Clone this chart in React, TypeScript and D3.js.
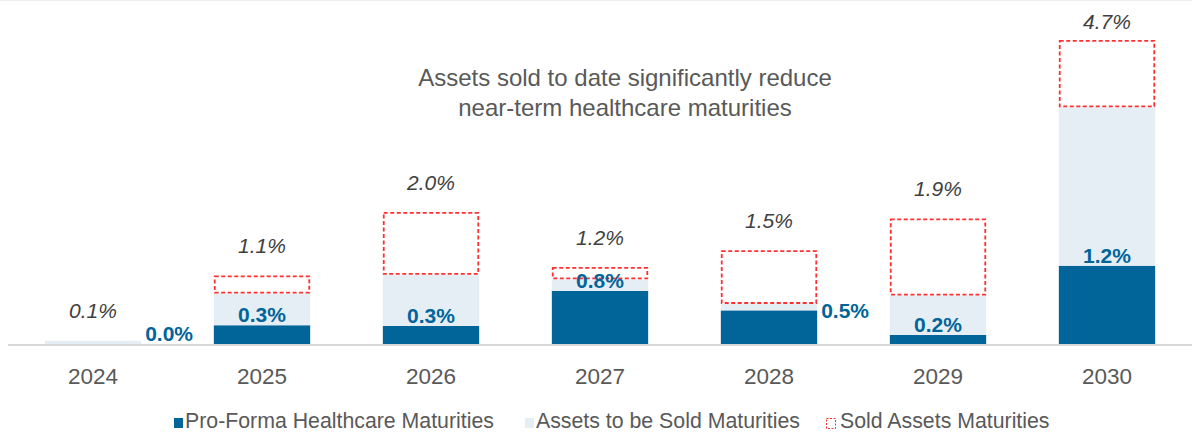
import { useMemo } from "react";
import * as d3 from "d3";

const WIDTH = 1192;
const HEIGHT = 433;
const BASE_Y = 344;
const TOP_Y = 40;

const years = ["2024", "2025", "2026", "2027", "2028", "2029", "2030"];
const proForma = [0.0, 0.29, 0.28, 0.82, 0.52, 0.14, 1.21];
const toBeSold = [0.05, 0.49, 0.79, 0.18, 0.1, 0.61, 2.45];
const sold = [0.0, 0.28, 0.97, 0.19, 0.83, 1.19, 1.04];
const proFormaLabels = ["0.0%", "0.3%", "0.3%", "0.8%", "0.5%", "0.2%", "1.2%"];
const totalLabels = ["0.1%", "1.1%", "2.0%", "1.2%", "1.5%", "1.9%", "4.7%"];
// years whose pro-forma label sits beside the bar instead of on top
const sideLabelYears = ["2024", "2028"];

const titleLines = [
  "Assets sold to date significantly reduce",
  "near-term healthcare maturities",
];
const legendItems = [
  "Pro-Forma Healthcare Maturities",
  "Assets to be Sold Maturities",
  "Sold Assets Maturities",
];

const DARK = "#02659a";
const LIGHT = "#e5eef5";
const RED = "#ff3030";
const FONT = "'Liberation Sans', Arial, sans-serif";

const App = () => {
  const data = years.map((year, i) => ({
    year,
    proForma: proForma[i],
    toBeSold: toBeSold[i],
    sold: sold[i],
  }));

  const series = useMemo(
    () => d3.stack().keys(["proForma", "toBeSold", "sold"])(data as any),
    []
  );

  const xScale = d3.scaleBand().domain(years).range([8.5, 1191.5]).paddingInner(0.43).paddingOuter(0.215);
  const yScale = d3.scaleLinear().domain([0, 4.7]).range([BASE_Y, TOP_Y]);
  const bw = xScale.bandwidth();

  const [proS, lightS, soldS] = series;

  return (
    <div style={{ position: "absolute", left: 0, top: 0 }}>
      <svg width={WIDTH} height={HEIGHT} style={{ display: "block", fontFamily: FONT }}>
        <rect width={WIDTH} height={HEIGHT} fill="#fff" />
        <line x1={0} x2={WIDTH} y1={0.5} y2={0.5} stroke="#ececec" />

        {/* title */}
        {titleLines.map((t, i) => (
          <text key={t} x={625} y={86 + i * 30} textAnchor="middle" fontSize={24} fill="#595959">
            {t}
          </text>
        ))}

        {/* pro-forma bars */}
        {proS.map((d, i) => (
          <rect
            key={"p" + i}
            x={xScale(years[i])}
            y={yScale(d[1])}
            width={bw}
            height={yScale(d[0]) - yScale(d[1])}
            fill={DARK}
          />
        ))}
        {/* assets to be sold */}
        {lightS.map((d, i) => (
          <rect
            key={"l" + i}
            x={xScale(years[i])}
            y={yScale(d[1])}
            width={bw}
            height={yScale(d[0]) - yScale(d[1])}
            fill={LIGHT}
          />
        ))}
        {/* sold assets: dashed outline */}
        {soldS.map((d, i) => {
          const h = yScale(d[0]) - yScale(d[1]);
          const x = xScale(years[i])!;
          if (h < 1) {
            return (
              <line
                key={"s" + i}
                x1={x}
                x2={x + bw}
                y1={BASE_Y + 1}
                y2={BASE_Y + 1}
                stroke={RED}
                strokeOpacity={0.35}
                strokeDasharray="4,2.5"
              />
            );
          }
          return (
            <rect
              key={"s" + i}
              x={x + 0.9}
              y={yScale(d[1]) + 0.9}
              width={bw - 1.8}
              height={h - 1.8}
              fill="none"
              stroke={RED}
              strokeWidth={1.8}
              strokeDasharray="4,2.5"
            />
          );
        })}

        {/* axis line */}
        <line x1={8} x2={WIDTH} y1={BASE_Y + 1} y2={BASE_Y + 1} stroke="#d9d9d9" strokeWidth={2} />

        {/* pro-forma value labels */}
        {proS.map((d, i) => {
          const yr = years[i];
          const cx = xScale(yr)! + bw / 2;
          const top = yScale(d[1]);
          if (sideLabelYears.includes(yr)) {
            const cy = Math.min(top, BASE_Y - 11);
            return (
              <text
                key={"pl" + i}
                x={xScale(yr)! + bw + 4}
                y={cy + 7.5}
                fontSize={21}
                fontWeight="bold"
                fill={DARK}
              >
                {proFormaLabels[i]}
              </text>
            );
          }
          return (
            <text key={"pl" + i} x={cx} y={top - 3} textAnchor="middle" fontSize={21} fontWeight="bold" fill={DARK}>
              {proFormaLabels[i]}
            </text>
          );
        })}

        {/* total labels */}
        {soldS.map((d, i) => {
          const top = Math.min(yScale(d[1]), yScale(0.05));
          const cy = Math.max(top - 30, 21);
          return (
            <text
              key={"t" + i}
              x={xScale(years[i])! + bw / 2}
              y={cy + 7.5}
              textAnchor="middle"
              fontSize={21}
              fontStyle="italic"
              fill="#404040"
            >
              {totalLabels[i]}
            </text>
          );
        })}

        {/* year labels */}
        {years.map((yr) => (
          <text key={yr} x={xScale(yr)! + bw / 2} y={384} textAnchor="middle" fontSize={22.5} fill="#595959">
            {yr}
          </text>
        ))}

        {/* legend */}
        {legendItems.map((label, i) => {
          const lx = [174, 525, 826][i];
          return (
            <g key={label} transform={`translate(${lx},418)`}>
              {i === 0 && <rect width={9} height={10} fill={DARK} />}
              {i === 1 && <rect width={9} height={10} fill={LIGHT} />}
              {i === 2 && (
                <rect x={0.5} y={0.5} width={9} height={10} fill="none" stroke={RED} strokeDasharray="2,1.5" />
              )}
              <text x={i === 2 ? 14 : 11} y={10} fontSize={21.3} fill="#595959">
                {label}
              </text>
            </g>
          );
        })}
      </svg>
    </div>
  );
};

export default App;
